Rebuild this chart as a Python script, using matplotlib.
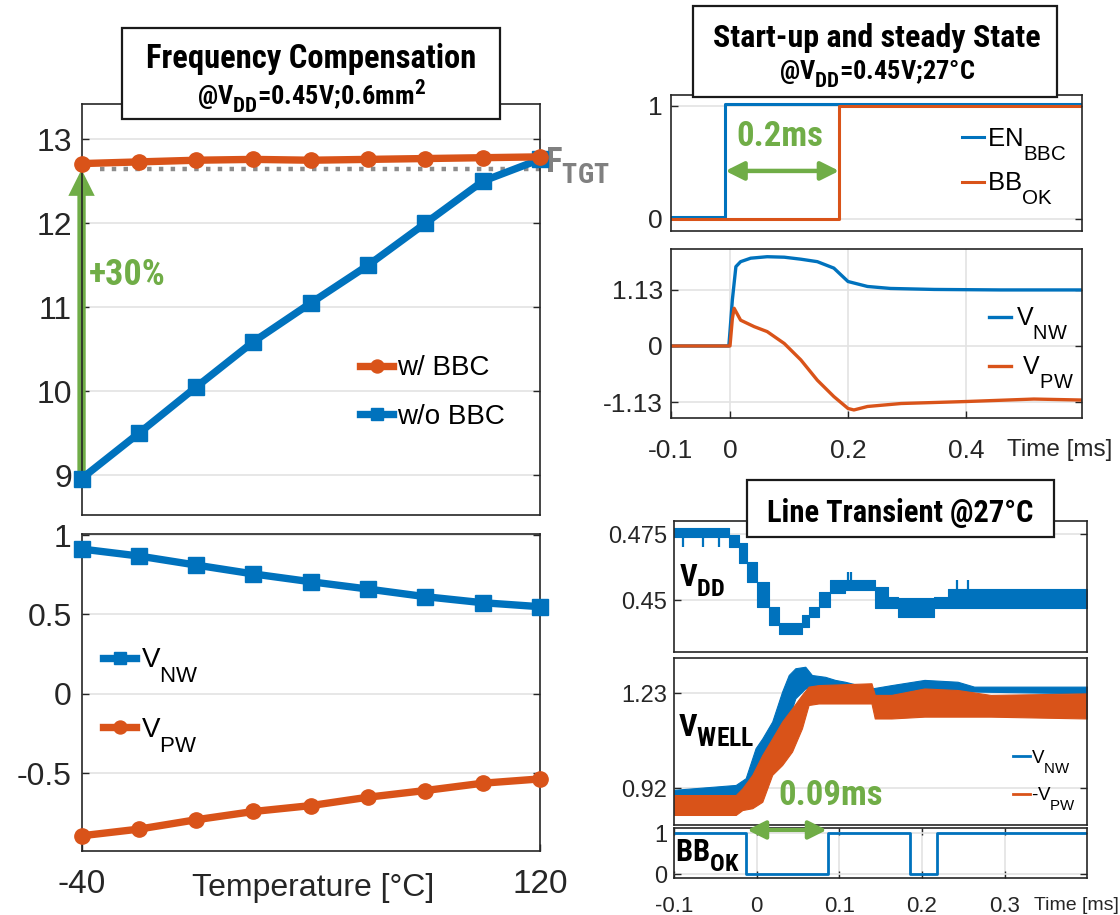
import matplotlib
matplotlib.use('Agg')
import matplotlib.pyplot as plt
from matplotlib import font_manager as fm
from matplotlib.patches import Rectangle, FancyArrowPatch, ArrowStyle

plt.rcParams['font.family'] = ['Liberation Sans', 'DejaVu Sans']
plt.rcParams['mathtext.default'] = 'regular'

def have(name):
    try:
        fm.findfont(fm.FontProperties(family=name), fallback_to_default=False)
        return True
    except Exception:
        return False

NARROW = None
for cand in ['Liberation Sans Narrow', 'Roboto Condensed', 'Open Sans Condensed']:
    if have(cand):
        NARROW = cand
        break
if NARROW:
    NB = dict(family=NARROW, weight='bold')
else:
    NB = dict(family='DejaVu Sans', stretch='condensed', weight='bold')

# larger, lower subscripts (MATLAB / PowerPoint look)
try:
    import matplotlib._mathtext as mt
    mt.SHRINK_FACTOR = 0.8

    class LegendConsts(mt.FontConstantsBase):
        sub1 = 1.05

    class LabelConsts(mt.FontConstantsBase):
        sub1 = 0.6

    def famname(**kw):
        return fm.get_font(fm.findfont(fm.FontProperties(**kw))).family_name

    mt._font_constant_mapping[famname(family='Liberation Sans')] = LegendConsts
    mt._font_constant_mapping[famname(**NB)] = LabelConsts
except Exception:
    pass

BLUE = '#0072BD'
ORANGE = '#D95319'
GREEN = '#70AD47'
GRAY = '#808080'
DARK = '#262626'
GRID = '#e3e3e3'

# ---------------- data ----------------
temps = [-40, -20, 0, 20, 40, 60, 80, 100, 120]
f_bbc = [12.71, 12.73, 12.75, 12.76, 12.75, 12.76, 12.77, 12.78, 12.79]
f_nobbc = [8.96, 9.50, 10.05, 10.59, 11.05, 11.50, 12.00, 12.50, 12.76]
f_tgt = 12.645
f_tgt_span = [-33.4, 121.0]
arrow_30 = [9.02, 12.64]
v_nw_temp = [0.912, 0.868, 0.811, 0.755, 0.706, 0.660, 0.612, 0.574, 0.549]
v_pw_temp = [-0.893, -0.851, -0.792, -0.740, -0.703, -0.650, -0.608, -0.562, -0.535]

# start-up
en_t = [-0.099, -0.007, 0.597]
en_v = [0.018, 1.018, 1.018]
bbok_su_t = [-0.099, 0.1856, 0.597]
bbok_su_v = [0.0, 1.0, 1.0]
vnw_su_t = [-0.099, -0.002, 0.0, 0.004, 0.01, 0.018, 0.035, 0.063, 0.092, 0.12, 0.148,
            0.176, 0.2, 0.233, 0.272, 0.346, 0.459, 0.597]
vnw_su_v = [0.0, 0.0, 0.3, 0.93, 1.60, 1.70, 1.77, 1.80, 1.79, 1.75, 1.70,
            1.57, 1.30, 1.20, 1.16, 1.14, 1.13, 1.13]
vpw_su_t = [-0.099, 0.0, 0.004, 0.007, 0.018, 0.041, 0.063, 0.092, 0.12, 0.148, 0.176,
            0.2, 0.21, 0.233, 0.29, 0.4, 0.515, 0.597]
vpw_su_v = [0.0, 0.0, 0.55, 0.76, 0.52, 0.39, 0.29, 0.05, -0.28, -0.69, -1.02,
            -1.26, -1.29, -1.22, -1.16, -1.12, -1.07, -1.09]

# line transient: VDD band (step segments)
vdd_t = [-0.100, -0.0333, -0.0213, -0.0113, 0.0007, 0.0148, 0.0268, 0.0548, 0.0629,
         0.0749, 0.0889, 0.107, 0.143, 0.159, 0.171, 0.215, 0.231, 0.400]
vdd_lo = [0.4741, 0.4703, 0.4640, 0.4570, 0.4475, 0.4405, 0.4369, 0.4398, 0.4437,
          0.4475, 0.4525, 0.4538, 0.4468, 0.4468, 0.4437, 0.4468, 0.4468, 0.4468]
vdd_hi = [0.4775, 0.4747, 0.4716, 0.4646, 0.4570, 0.4475, 0.4411, 0.4443, 0.4475,
          0.4532, 0.4576, 0.4576, 0.4551, 0.4513, 0.4506, 0.4513, 0.4542, 0.4542]
vdd_spike_t = [-0.0894, -0.0654, -0.0454, 0.111, 0.114, 0.242, 0.256, 0.205]
vdd_spike_lo = [0.4703, 0.4703, 0.4703, 0.4560, 0.4560, 0.4530, 0.4530, 0.4440]
vdd_spike_hi = [0.4750, 0.4750, 0.4750, 0.4608, 0.4608, 0.4576, 0.4576, 0.4480]

# VWELL bands
vnw_lt_t = [-0.1, -0.0253, -0.0133, -0.0013, 0.0068, 0.0188, 0.0308, 0.0388, 0.0468,
            0.0588, 0.0668, 0.0829, 0.0949, 0.1069, 0.1389, 0.1630, 0.2030, 0.2431,
            0.2631, 0.4]
vnw_lt_lo = [0.887, 0.887, 0.893, 0.931, 0.964, 1.007, 1.094, 1.148, 1.214,
             1.246, 1.246, 1.252, 1.252, 1.236, 1.214, 1.225, 1.246, 1.236,
             1.236, 1.230]
vnw_lt_hi = [0.915, 0.931, 0.953, 1.051, 1.083, 1.138, 1.236, 1.290, 1.312,
             1.317, 1.290, 1.284, 1.274, 1.268, 1.246, 1.257, 1.274, 1.268,
             1.252, 1.252]
vpw_lt_t = [-0.1, -0.0253, -0.0173, -0.0053, 0.0068, 0.0188, 0.0308, 0.0428, 0.0548,
            0.0628, 0.0748, 0.1389, 0.1429, 0.1630, 0.2030, 0.2431, 0.2831, 0.4]
vpw_lt_lo = [0.833, 0.833, 0.849, 0.855, 0.876, 0.964, 0.996, 1.040, 1.116,
             1.192, 1.197, 1.197, 1.148, 1.148, 1.154, 1.154, 1.154, 1.148]
vpw_lt_hi = [0.898, 0.898, 0.920, 0.964, 1.029, 1.083, 1.138, 1.181, 1.225,
             1.252, 1.257, 1.263, 1.225, 1.225, 1.246, 1.241, 1.225, 1.230]

bbok_lt_t = [-0.1, -0.013, 0.0859, 0.1857, 0.2184, 0.4]
bbok_lt_v = [1, 0, 1, 0, 1, 1]

# ---------------- figure ----------------
fig = plt.figure(figsize=(11.2, 9.15), dpi=100)

def style(ax, fs, pad):
    ax.tick_params(direction='in', length=5, width=1, color=DARK, labelcolor=DARK,
                   labelsize=fs, right=True, pad=pad)
    for s in ax.spines.values():
        s.set_color(DARK)
        s.set_linewidth(1.2)
    ax.set_axisbelow(True)

# ---- top-left: frequency ----
ax1 = fig.add_axes([0.0728, 0.4372, 0.4094, 0.4492])
style(ax1, 23, 7)
ax1.set_xlim(-40, 120)
ax1.set_ylim(8.527, 13.42)
ax1.set_yticks([9, 10, 11, 12, 13])
ax1.set_xticks([])
ax1.yaxis.grid(True, color=GRID, lw=1.2)
ax1.plot(f_tgt_span, [f_tgt, f_tgt], ls=':', color='#8c8c8c', lw=3.2, zorder=2, clip_on=False)
arr = FancyArrowPatch((temps[0], arrow_30[0]), (temps[0], arrow_30[1]),
                      arrowstyle=ArrowStyle.Simple(head_length=19, head_width=19, tail_width=6),
                      mutation_scale=1, color=GREEN, lw=0, shrinkA=0, shrinkB=0,
                      zorder=2.5, clip_on=False)
ax1.add_patch(arr)
l1, = ax1.plot(temps, f_bbc, color=ORANGE, lw=5.3, marker='o', ms=11, clip_on=False, zorder=5)
l2, = ax1.plot(temps, f_nobbc, color=BLUE, lw=5.3, marker='s', ms=11, clip_on=False, zorder=4)
ax1.text(-37.3, 11.38, '+30%', color=GREEN, fontsize=26, ha='left', va='center', **NB)
ax1.text(121.7, 12.60, r'F$_{TGT}$', color=GRAY, fontsize=25, ha='left', va='baseline',
         clip_on=False, **NB)
ax1.legend([l1, l2], ['w/ BBC', 'w/o BBC'], loc='upper left', bbox_to_anchor=(0.607, 0.388),
           frameon=False, fontsize=20, handlelength=1.2, handletextpad=0.15,
           labelspacing=0.8, borderpad=0, borderaxespad=0, markerscale=0.85)

# ---- bottom-left: well voltages ----
ax2 = fig.add_axes([0.0728, 0.0699, 0.4094, 0.3464])
style(ax2, 23, 7)
ax2.set_xlim(-40, 120)
ax2.set_ylim(-0.989, 1.006)
ax2.set_yticks([-0.5, 0, 0.5, 1])
ax2.set_yticklabels(['-0.5', '0', '0.5', '1'])
ax2.set_xticks([-40, 120])
ax2.set_xticklabels(['-40', '120'])
ax2.tick_params(axis='x', pad=13, labelsize=24)
ax2.yaxis.grid(True, color=GRID, lw=1.2)
m1, = ax2.plot(temps, v_nw_temp, color=BLUE, lw=5.3, marker='s', ms=11, clip_on=False, zorder=4)
m2, = ax2.plot(temps, v_pw_temp, color=ORANGE, lw=5.3, marker='o', ms=11, clip_on=False, zorder=4)
ax2.set_xlabel('Temperature [°C]', fontsize=23, color=DARK)
ax2.xaxis.set_label_coords(0.505, -0.07)
ax2.legend([m1, m2], [r'V$_{NW}$', r'V$_{PW}$'], loc='upper left', bbox_to_anchor=(0.047, 0.645),
           frameon=False, fontsize=20, handlelength=1.2, handletextpad=0.15,
           labelspacing=1.1, borderpad=0, borderaxespad=0, markerscale=0.85)

# ---- top-right 1: EN / BBOK ----
ax3 = fig.add_axes([0.5991, 0.7479, 0.3672, 0.1483])
style(ax3, 19, 6)
ax3.set_xlim(-0.099, 0.597)
ax3.set_ylim(-0.103, 1.094)
ax3.set_yticks([0, 1])
ax3.set_xticks([])
ax3.yaxis.grid(True, color=GRID, lw=1.2)
e1, = ax3.plot(en_t, en_v, drawstyle='steps-post', color=BLUE, lw=2.2)
e2, = ax3.plot(bbok_su_t, bbok_su_v, drawstyle='steps-post', color=ORANGE, lw=2.2)
ax3.annotate('', xy=(bbok_su_t[1], 0.424), xytext=(en_t[1], 0.424),
             arrowprops=dict(arrowstyle='<|-|>,head_length=11,head_width=5.5', mutation_scale=1,
                             lw=3.2, color=GREEN, shrinkA=0, shrinkB=0))
ax3.text(0.0858, 0.726, '0.2ms', color=GREEN, fontsize=25, ha='center', va='center', **NB)
ax3.legend([e1, e2], [r'EN$_{BBC}$', r'BB$_{OK}$'], loc='upper left', bbox_to_anchor=(0.707, 0.77),
           frameon=False, fontsize=18.5, handlelength=0.88, handletextpad=0.1,
           labelspacing=0.3, borderpad=0, borderaxespad=0)

# ---- top-right 2: VNW / VPW ----
ax4 = fig.add_axes([0.5991, 0.5435, 0.3672, 0.1844])
style(ax4, 19, 15)
ax4.set_xlim(-0.099, 0.597)
ax4.set_ylim(-1.446, 1.956)
ax4.set_yticks([-1.13, 0, 1.13])
ax4.set_yticklabels(['-1.13', '0', '1.13'])
ax4.set_xticks([-0.1, 0, 0.2, 0.4])
ax4.set_xticklabels(['-0.1', '0', '0.2', '0.4'])
ax4.tick_params(axis='y', pad=6)
ax4.grid(True, color=GRID, lw=1.2)
n1, = ax4.plot(vnw_su_t, vnw_su_v, color=BLUE, lw=2.4)
n2, = ax4.plot(vpw_su_t, vpw_su_v, color=ORANGE, lw=2.4)
ax4.text(0.946, -0.19, 'Time [ms]', transform=ax4.transAxes, fontsize=17.5, color=DARK,
         ha='center', va='center')
ax4.legend([n1, n2], [r'V$_{NW}$', r' V$_{PW}$'], loc='upper left', bbox_to_anchor=(0.773, 0.665),
           frameon=False, fontsize=18, handlelength=0.88, handletextpad=0.2,
           labelspacing=0.5, borderpad=0, borderaxespad=0)

# ---- line transient: VDD ----
ax5 = fig.add_axes([0.6018, 0.2871, 0.369, 0.1435])
style(ax5, 17, 5)
ax5.set_xlim(-0.1, 0.4)
ax5.set_ylim(0.4301, 0.4801)
ax5.set_yticks([0.45, 0.475])
ax5.set_yticklabels(['0.45', '0.475'])
ax5.set_xticks([])
ax5.yaxis.grid(True, color=GRID, lw=1.2)
ax5.fill_between(vdd_t, vdd_lo, vdd_hi, step='post', color=BLUE, lw=0.8)
ax5.vlines(vdd_spike_t, vdd_spike_lo, vdd_spike_hi, color=BLUE, lw=1.6)
ax5.text(-0.0934, 0.455, r'V$_{DD}$', fontsize=22, ha='left', va='baseline', color='black', **NB)

# ---- line transient: VWELL ----
ax6 = fig.add_axes([0.6018, 0.0984, 0.369, 0.1828])
style(ax6, 17, 5)
ax6.set_xlim(-0.1, 0.4)
ax6.set_ylim(0.8003, 1.3465)
ax6.set_yticks([0.92, 1.23])
ax6.set_yticklabels(['0.92', '1.23'])
ax6.set_xticks([])
ax6.yaxis.grid(True, color=GRID, lw=1.2)
ax6.fill_between(vnw_lt_t, vnw_lt_lo, vnw_lt_hi, color=BLUE, lw=0.8)
ax6.fill_between(vpw_lt_t, vpw_lt_lo, vpw_lt_hi, color=ORANGE, lw=0.8)
h1, = ax6.plot([], [], color=BLUE, lw=2)
h2, = ax6.plot([], [], color=ORANGE, lw=2)
ax6.text(-0.095, 1.089, r'V$_{WELL}$', fontsize=23, ha='left', va='baseline', color='black', **NB)
ax6.text(0.0889, 0.896, '0.09ms', fontsize=25, ha='center', va='center', color=GREEN, **NB)
ax6.legend([h1, h2], [r'V$_{NW}$', r'-V$_{PW}$'], loc='upper left', bbox_to_anchor=(0.82, 0.46),
           frameon=False, fontsize=13.5, handlelength=0.9, handletextpad=0.05,
           labelspacing=0.55, borderpad=0, borderaxespad=0)

# ---- line transient: BBOK ----
ax7 = fig.add_axes([0.6018, 0.0408, 0.369, 0.054])
style(ax7, 16, 13)
ax7.tick_params(axis='y', pad=5, labelsize=17)
ax7.tick_params(top=True)
ax7.set_xlim(-0.1, 0.4)
ax7.set_ylim(-0.083, 1.122)
ax7.set_yticks([0, 1])
ax7.set_xticks([-0.1, 0, 0.1, 0.2, 0.3])
ax7.set_xticklabels(['-0.1', '0', '0.1', '0.2', '0.3'])
ax7.grid(True, color=GRID, lw=1.2)
ax7.plot(bbok_lt_t, bbok_lt_v, drawstyle='steps-post', color=BLUE, lw=2)
ax7.annotate('', xy=(0.0848, 1.08), xytext=(-0.0114, 1.08), annotation_clip=False,
             arrowprops=dict(arrowstyle='<|-|>,head_length=11,head_width=5.5', mutation_scale=1,
                             lw=3.0, color=GREEN, shrinkA=0, shrinkB=0, clip_on=False))
ax7.text(-0.099, 0.307, r'BB$_{OK}$', fontsize=22, ha='left', va='baseline', color='black', **NB)
ax7.text(0.973, -0.56, 'Time [ms]', transform=ax7.transAxes, fontsize=14, color=DARK,
         ha='center', va='center')

# ---------------- title boxes ----------------
def fx(px):
    return px / 1120.0

def fy(py):
    return 1 - py / 915.0

def box(x0, y0, x1, y1):
    r = Rectangle((fx(x0), fy(y1)), fx(x1) - fx(x0), fy(y0) - fy(y1), transform=fig.transFigure,
                  facecolor='white', edgecolor='#1a1a1a', lw=1.6, zorder=10)
    fig.patches.append(r)

box(122, 28, 500, 119)
fig.text(fx(311), fy(68), 'Frequency Compensation', fontsize=23.5, ha='center', va='baseline',
         zorder=11, **NB)
fig.text(fx(311), fy(105), r'@V$_{DD}$=0.45V;0.6mm$^{2}$', fontsize=19, ha='center',
         va='baseline', zorder=11, **NB)

box(693, 6, 1057, 97)
fig.text(fx(877), fy(46.7), 'Start-up and steady State', fontsize=23, ha='center',
         va='baseline', zorder=11, **NB)
fig.text(fx(877), fy(80), r'@V$_{DD}$=0.45V;27°C', fontsize=19, ha='center',
         va='baseline', zorder=11, **NB)

box(746.5, 480, 1054, 537)
fig.text(fx(900), fy(521.8), 'Line Transient @27°C', fontsize=22, ha='center',
         va='baseline', zorder=11, **NB)

fig.savefig('out.png', dpi=100)
